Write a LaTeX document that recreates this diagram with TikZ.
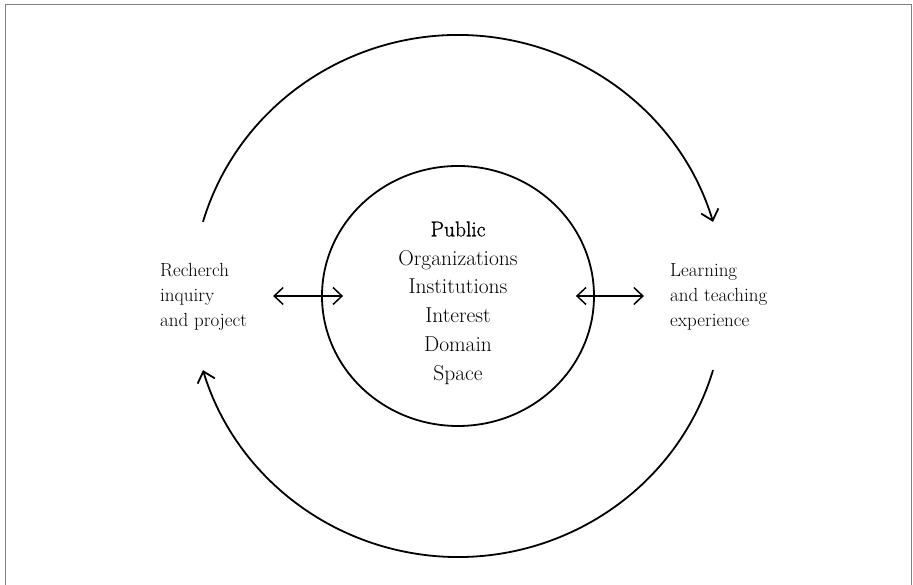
\documentclass[tikz,border=0pt]{standalone}
\usepackage{fontspec}
\newfontfamily\semibold[FakeBold=1.2]{Latin Modern Roman}
\usetikzlibrary{shapes.geometric,arrows.meta}

\begin{document}
\begin{tikzpicture}[x=1pt,y=1pt,
    ring/.style={line width=1.8pt},
    barb/.style={line width=1.5pt,{Straight Barb[length=9pt,width=17pt]}-{Straight Barb[length=9pt,width=17pt]}},
    cycle/.style={line width=1.8pt,-{Straight Barb[length=10pt,width=18pt]}},
    side/.style={align=left,font=\fontsize{19}{25}\selectfont,inner sep=0pt}]
  \useasboundingbox (0,0) rectangle (913,585);
  \draw[gray,line width=0.8pt] (5,0) -- (5,581) -- (911.5,581) -- (911.5,0);

  \node[ellipse,draw,ring,minimum width=272pt,minimum height=260pt,inner sep=0pt] (public) at (458,289) {};
  \node[align=center,font=\fontsize{21.5}{28.8}\selectfont] (fields) at ([yshift=-7pt]public.center)
    {{\semibold Public}\\Organizations\\Institutions\\Interest\\Domain\\Space};

  \node[side,anchor=west] (research) at (160,288) {Recherch\\inquiry\\and project};
  \node[side,anchor=west] (learning) at (670,288) {Learning\\and teaching\\experience};

  \draw[barb] ([xshift=-48pt]public.west) -- ([xshift=22pt]public.west);
  \draw[barb] ([xshift=-19pt]public.east) -- ([xshift=49pt]public.east);

  % outer cycle
  \draw[cycle] (public.center) ++(163.5:266 and 261)
    arc[start angle=163.5,end angle=16.5,x radius=266,y radius=261];
  \draw[cycle] (public.center) ++(-16.5:266 and 261)
    arc[start angle=-16.5,end angle=-163.5,x radius=266,y radius=261];
\end{tikzpicture}
\end{document}
